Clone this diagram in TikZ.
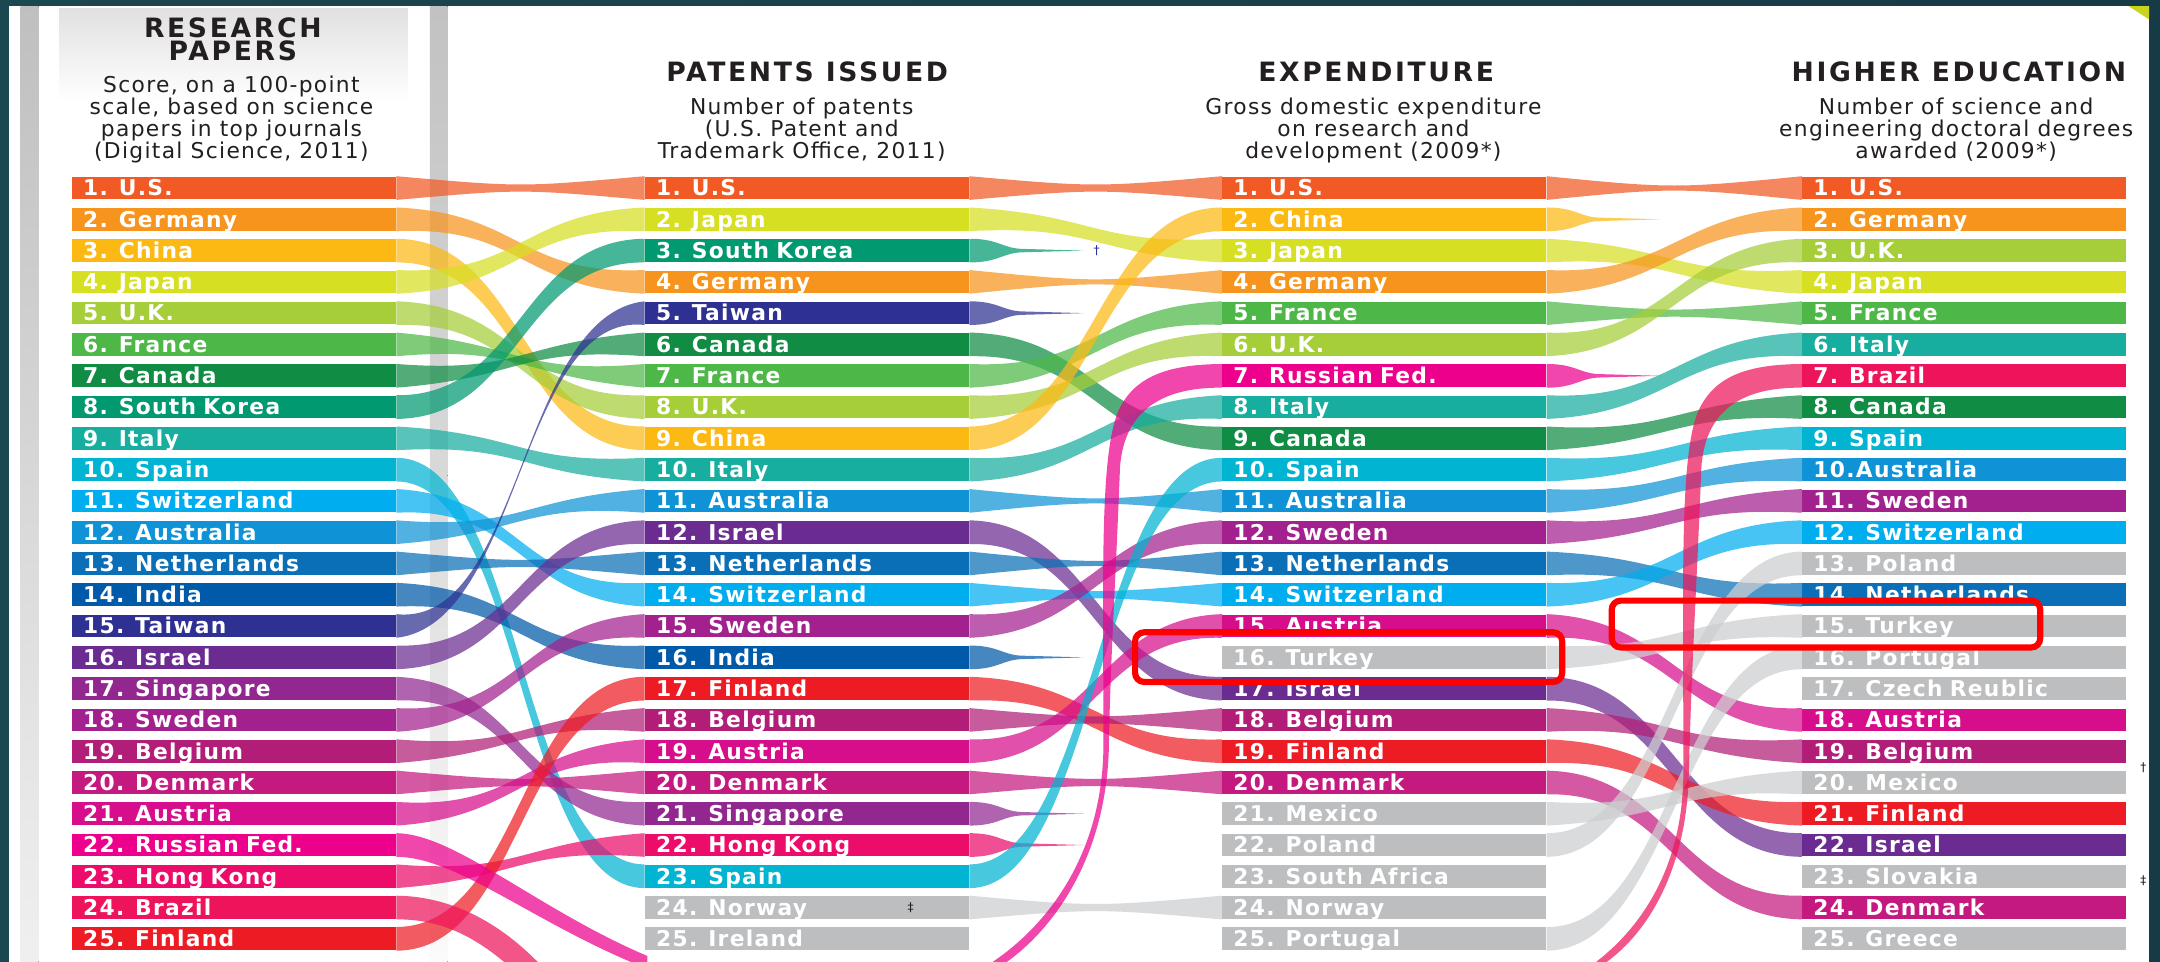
\documentclass[tikz,border=0pt]{standalone}
\usepackage{fontspec}
\setmainfont{DejaVu Sans}
\newfontfamily\barfont{DejaVu Sans}[LetterSpace=6]
\newfontfamily\headfont{DejaVu Sans}[LetterSpace=10]
\newfontfamily\subfont{DejaVu Sans}[LetterSpace=6]
\usepackage{tikz}
\usetikzlibrary{calc}

\definecolor{ink}{HTML}{231F20}
\definecolor{frameleft}{HTML}{1B4750}
\definecolor{framemid}{HTML}{2B5F60}
\definecolor{frameright}{HTML}{173A47}
\definecolor{cornermark}{HTML}{C8D41E}
\definecolor{us}{HTML}{F15A24}
\definecolor{germany}{HTML}{F7941D}
\definecolor{china}{HTML}{FDB913}
\definecolor{japan}{HTML}{D7DF23}
\definecolor{uk}{HTML}{A6CE39}
\definecolor{france}{HTML}{4DB848}
\definecolor{canada}{HTML}{108C45}
\definecolor{skorea}{HTML}{009970}
\definecolor{italy}{HTML}{17AD9F}
\definecolor{spain}{HTML}{00B4D2}
\definecolor{swiss}{HTML}{00AEEF}
\definecolor{australia}{HTML}{0F93D6}
\definecolor{netherl}{HTML}{0B6FB7}
\definecolor{india}{HTML}{0059A9}
\definecolor{taiwan}{HTML}{2E3192}
\definecolor{israel}{HTML}{6A2C91}
\definecolor{singapore}{HTML}{92278F}
\definecolor{sweden}{HTML}{A3218E}
\definecolor{belgium}{HTML}{B21E77}
\definecolor{denmark}{HTML}{C4197F}
\definecolor{austria}{HTML}{D60E8C}
\definecolor{russia}{HTML}{EC008C}
\definecolor{hongkong}{HTML}{EC0C6A}
\definecolor{brazil}{HTML}{EE145B}
\definecolor{finland}{HTML}{ED1C24}
\definecolor{nodata}{HTML}{BCBEC0}

\tikzset{bar node/.style={anchor=west, inner xsep=1.6mm, inner ysep=0pt,
    text width=43.8mm, align=left, minimum height=3.3mm,
    text height=6.5pt, text depth=0pt, text=white,
    font=\barfont\bfseries\fontsize{9}{9}\selectfont}}
\tikzset{ribbon edge/.style={fill opacity=.72}}
\tikzset{heading/.style={anchor=base, align=center, text=ink,
    font=\headfont\bfseries\fontsize{11}{8.9}\selectfont}}
\tikzset{subheading/.style={anchor=base, align=center, text=ink,
    font=\subfont\fontsize{9}{9.1}\selectfont}}
\tikzset{note/.style={text=ink, inner sep=0pt, font=\fontsize{5}{5}\selectfont}}
\tikzset{highlight/.style={draw=red, line width=0.9mm, rounded corners=1.3mm}}

% band from the end of one bar to the start of the next one
\newcommand{\ribbon}[4][6]{%
  \fill [ribbon edge, fill=#4]
    (#2.north east) .. controls +(91,#1) and +(-91,#1) .. (#3.north west)
    -- (#3.south west) .. controls +(-91,-#1) and +(91,-#1) .. (#2.south east) -- cycle;}
% band that runs out to a point
\newcommand{\taper}[2]{%
  \fill [ribbon edge, fill=#2]
    (#1.north east) .. controls +(22,0) and +(-16,0) .. ($(#1.east)+(40,-1.2)$)
    -- ($(#1.east)+(83,0)$) -- ($(#1.east)+(40,1.2)$)
    .. controls +(-16,0) and +(22,0) .. (#1.south east) -- cycle;}

\begin{document}
\begin{tikzpicture}[x=0.02cm, y=-0.02cm]
  \useasboundingbox (0,0) rectangle (1568,698);
  \fill [left color=frameleft, middle color=framemid, right color=frameright] (0,0) rectangle (1568,698);
  \fill [white] (6.6,4.4) rectangle (1560,698);

  \begin{scope}
    \clip (6.6,4.4) rectangle (1560,698);

    % left panel
    \fill [top color=gray!24, bottom color=white] (43,6) rectangle (296,73);
    \fill [top color=gray!50, bottom color=gray!12] (15,4.4) rectangle (28,698);
    \fill [top color=gray!48, bottom color=gray!30] (312,4.4) rectangle (325,345);
    \fill [top color=gray!30, bottom color=gray!3] (312,345) rectangle (325,698);
    \fill [cornermark] (1545,4.4) -- (1560,4.4) -- (1560,14) -- cycle;

    \node [heading]    (hresearch)  at ( 169,27)    {RESEARCH};
    \node [heading]    (hpapers)    at ( 169,44)    {PAPERS};
    \node [subheading] (spapers)    at ( 168,115.4) {Score, on a 100-point\\scale, based on science\\papers in top journals\\(Digital Science, 2011)};
    \node [heading]    (hpatents)   at ( 586,59.3)  {PATENTS ISSUED};
    \node [subheading] (spatents)   at ( 582,115)   {Number of patents\\(U.S. Patent and\\Trademark Office, 2011)};
    \node [heading]    (hexpend)    at ( 999,59.3)  {EXPENDITURE};
    \node [subheading] (sexpend)    at ( 997,115)   {Gross domestic expenditure\\on research and\\development (2009*)};
    \node [heading]    (heducation) at (1422,59.3)  {HIGHER EDUCATION};
    \node [subheading] (seducation) at (1420,115)   {Number of science and\\engineering doctoral degrees\\awarded (2009*)};

    % research papers
    \node [bar node, fill=us]        (a1)  at (52,136.5) {1. U.S.};
    \node [bar node, fill=germany]   (a2)  at (52,159.2) {2. Germany};
    \node [bar node, fill=china]     (a3)  at (52,181.9) {3. China};
    \node [bar node, fill=japan]     (a4)  at (52,204.6) {4. Japan};
    \node [bar node, fill=uk]        (a5)  at (52,227.3) {5. U.K.};
    \node [bar node, fill=france]    (a6)  at (52,250.0) {6. France};
    \node [bar node, fill=canada]    (a7)  at (52,272.8) {7. Canada};
    \node [bar node, fill=skorea]    (a8)  at (52,295.5) {8. South Korea};
    \node [bar node, fill=italy]     (a9)  at (52,318.2) {9. Italy};
    \node [bar node, fill=spain]     (a10) at (52,340.9) {10. Spain};
    \node [bar node, fill=swiss]     (a11) at (52,363.6) {11. Switzerland};
    \node [bar node, fill=australia] (a12) at (52,386.3) {12. Australia};
    \node [bar node, fill=netherl]   (a13) at (52,409.0) {13. Netherlands};
    \node [bar node, fill=india]     (a14) at (52,431.7) {14. India};
    \node [bar node, fill=taiwan]    (a15) at (52,454.4) {15. Taiwan};
    \node [bar node, fill=israel]    (a16) at (52,477.2) {16. Israel};
    \node [bar node, fill=singapore] (a17) at (52,499.9) {17. Singapore};
    \node [bar node, fill=sweden]    (a18) at (52,522.6) {18. Sweden};
    \node [bar node, fill=belgium]   (a19) at (52,545.3) {19. Belgium};
    \node [bar node, fill=denmark]   (a20) at (52,568.0) {20. Denmark};
    \node [bar node, fill=austria]   (a21) at (52,590.7) {21. Austria};
    \node [bar node, fill=russia]    (a22) at (52,613.4) {22. Russian Fed.};
    \node [bar node, fill=hongkong]  (a23) at (52,636.1) {23. Hong Kong};
    \node [bar node, fill=brazil]    (a24) at (52,658.8) {24. Brazil};
    \node [bar node, fill=finland]   (a25) at (52,681.5) {25. Finland};

    % patents issued
    \node [bar node, fill=us]        (b1)  at (468,136.5) {1. U.S.};
    \node [bar node, fill=japan]     (b2)  at (468,159.2) {2. Japan};
    \node [bar node, fill=skorea]    (b3)  at (468,181.9) {3. South Korea};
    \node [bar node, fill=germany]   (b4)  at (468,204.6) {4. Germany};
    \node [bar node, fill=taiwan]    (b5)  at (468,227.3) {5. Taiwan};
    \node [bar node, fill=canada]    (b6)  at (468,250.0) {6. Canada};
    \node [bar node, fill=france]    (b7)  at (468,272.8) {7. France};
    \node [bar node, fill=uk]        (b8)  at (468,295.5) {8. U.K.};
    \node [bar node, fill=china]     (b9)  at (468,318.2) {9. China};
    \node [bar node, fill=italy]     (b10) at (468,340.9) {10. Italy};
    \node [bar node, fill=australia] (b11) at (468,363.6) {11. Australia};
    \node [bar node, fill=israel]    (b12) at (468,386.3) {12. Israel};
    \node [bar node, fill=netherl]   (b13) at (468,409.0) {13. Netherlands};
    \node [bar node, fill=swiss]     (b14) at (468,431.7) {14. Switzerland};
    \node [bar node, fill=sweden]    (b15) at (468,454.4) {15. Sweden};
    \node [bar node, fill=india]     (b16) at (468,477.2) {16. India};
    \node [bar node, fill=finland]   (b17) at (468,499.9) {17. Finland};
    \node [bar node, fill=belgium]   (b18) at (468,522.6) {18. Belgium};
    \node [bar node, fill=austria]   (b19) at (468,545.3) {19. Austria};
    \node [bar node, fill=denmark]   (b20) at (468,568.0) {20. Denmark};
    \node [bar node, fill=singapore] (b21) at (468,590.7) {21. Singapore};
    \node [bar node, fill=hongkong]  (b22) at (468,613.4) {22. Hong Kong};
    \node [bar node, fill=spain]     (b23) at (468,636.1) {23. Spain};
    \node [bar node, fill=nodata]    (b24) at (468,658.8) {24. Norway};
    \node [bar node, fill=nodata]    (b25) at (468,681.5) {25. Ireland};

    % expenditure
    \node [bar node, fill=us]        (c1)  at (887,136.5) {1. U.S.};
    \node [bar node, fill=china]     (c2)  at (887,159.2) {2. China};
    \node [bar node, fill=japan]     (c3)  at (887,181.9) {3. Japan};
    \node [bar node, fill=germany]   (c4)  at (887,204.6) {4. Germany};
    \node [bar node, fill=france]    (c5)  at (887,227.3) {5. France};
    \node [bar node, fill=uk]        (c6)  at (887,250.0) {6. U.K.};
    \node [bar node, fill=russia]    (c7)  at (887,272.8) {7. Russian Fed.};
    \node [bar node, fill=italy]     (c8)  at (887,295.5) {8. Italy};
    \node [bar node, fill=canada]    (c9)  at (887,318.2) {9. Canada};
    \node [bar node, fill=spain]     (c10) at (887,340.9) {10. Spain};
    \node [bar node, fill=australia] (c11) at (887,363.6) {11. Australia};
    \node [bar node, fill=sweden]    (c12) at (887,386.3) {12. Sweden};
    \node [bar node, fill=netherl]   (c13) at (887,409.0) {13. Netherlands};
    \node [bar node, fill=swiss]     (c14) at (887,431.7) {14. Switzerland};
    \node [bar node, fill=austria]   (c15) at (887,454.4) {15. Austria};
    \node [bar node, fill=nodata]    (c16) at (887,477.2) {16. Turkey};
    \node [bar node, fill=israel]    (c17) at (887,499.9) {17. Israel};
    \node [bar node, fill=belgium]   (c18) at (887,522.6) {18. Belgium};
    \node [bar node, fill=finland]   (c19) at (887,545.3) {19. Finland};
    \node [bar node, fill=denmark]   (c20) at (887,568.0) {20. Denmark};
    \node [bar node, fill=nodata]    (c21) at (887,590.7) {21. Mexico};
    \node [bar node, fill=nodata]    (c22) at (887,613.4) {22. Poland};
    \node [bar node, fill=nodata]    (c23) at (887,636.1) {23. South Africa};
    \node [bar node, fill=nodata]    (c24) at (887,658.8) {24. Norway};
    \node [bar node, fill=nodata]    (c25) at (887,681.5) {25. Portugal};

    % higher education
    \node [bar node, fill=us]        (d1)  at (1308,136.5) {1. U.S.};
    \node [bar node, fill=germany]   (d2)  at (1308,159.2) {2. Germany};
    \node [bar node, fill=uk]        (d3)  at (1308,181.9) {3. U.K.};
    \node [bar node, fill=japan]     (d4)  at (1308,204.6) {4. Japan};
    \node [bar node, fill=france]    (d5)  at (1308,227.3) {5. France};
    \node [bar node, fill=italy]     (d6)  at (1308,250.0) {6. Italy};
    \node [bar node, fill=brazil]    (d7)  at (1308,272.8) {7. Brazil};
    \node [bar node, fill=canada]    (d8)  at (1308,295.5) {8. Canada};
    \node [bar node, fill=spain]     (d9)  at (1308,318.2) {9. Spain};
    \node [bar node, fill=australia] (d10) at (1308,340.9) {10.Australia};
    \node [bar node, fill=sweden]    (d11) at (1308,363.6) {11. Sweden};
    \node [bar node, fill=swiss]     (d12) at (1308,386.3) {12. Switzerland};
    \node [bar node, fill=nodata]    (d13) at (1308,409.0) {13. Poland};
    \node [bar node, fill=netherl]   (d14) at (1308,431.7) {14. Netherlands};
    \node [bar node, fill=nodata]    (d15) at (1308,454.4) {15. Turkey};
    \node [bar node, fill=nodata]    (d16) at (1308,477.2) {16. Portugal};
    \node [bar node, fill=nodata]    (d17) at (1308,499.9) {17. Czech Reublic};
    \node [bar node, fill=austria]   (d18) at (1308,522.6) {18. Austria};
    \node [bar node, fill=belgium]   (d19) at (1308,545.3) {19. Belgium};
    \node [bar node, fill=nodata]    (d20) at (1308,568.0) {20. Mexico};
    \node [bar node, fill=finland]   (d21) at (1308,590.7) {21. Finland};
    \node [bar node, fill=israel]    (d22) at (1308,613.4) {22. Israel};
    \node [bar node, fill=nodata]    (d23) at (1308,636.1) {23. Slovakia};
    \node [bar node, fill=denmark]   (d24) at (1308,658.8) {24. Denmark};
    \node [bar node, fill=nodata]    (d25) at (1308,681.5) {25. Greece};

    % papers -> patents
    \ribbon[8]{a1}{b1}{us}
    \ribbon[4]{a2}{b4}{germany}
    \ribbon[1]{a3}{b9}{china}
    \ribbon[4]{a4}{b2}{japan}
    \ribbon[3]{a5}{b8}{uk}
    \ribbon[8]{a6}{b7}{france}
    \ribbon[7]{a7}{b6}{canada}
    \ribbon[1]{a8}{b3}{skorea}
    \ribbon[5]{a9}{b10}{italy}
    \ribbon[0]{a10}{b23}{spain}
    \ribbon[5]{a11}{b14}{swiss}
    \ribbon[7]{a12}{b11}{australia}
    \ribbon[8]{a13}{b13}{netherl}
    \ribbon[4]{a14}{b16}{india}
    \ribbon[10]{a15}{b5}{taiwan}
    \ribbon[3]{a16}{b12}{israel}
    \ribbon[4]{a17}{b21}{singapore}
    \ribbon[5]{a18}{b15}{sweden}
    \ribbon[7]{a19}{b18}{belgium}
    \ribbon[8]{a20}{b20}{denmark}
    \ribbon[6]{a21}{b19}{austria}
    \ribbon[7]{a23}{b22}{hongkong}
    \ribbon[0]{a25}{b17}{finland}

    % patents -> expenditure
    \ribbon[8]{b1}{c1}{us}
    \ribbon[5]{b2}{c3}{japan}
    \taper{b3}{skorea}
    \ribbon[9]{b4}{c4}{germany}
    \taper{b5}{taiwan}
    \ribbon[2]{b6}{c9}{canada}
    \ribbon[4]{b7}{c5}{france}
    \ribbon[4]{b8}{c6}{uk}
    \ribbon[0]{b9}{c2}{china}
    \ribbon[4]{b10}{c8}{italy}
    \ribbon[9]{b11}{c11}{australia}
    \ribbon[2]{b12}{c17}{israel}
    \ribbon[9]{b13}{c13}{netherl}
    \ribbon[8]{b14}{c14}{swiss}
    \ribbon[4]{b15}{c12}{sweden}
    \taper{b16}{india}
    \ribbon[3]{b17}{c19}{finland}
    \ribbon[8]{b18}{c18}{belgium}
    \ribbon[3]{b19}{c15}{austria}
    \ribbon[8]{b20}{c20}{denmark}
    \taper{b21}{singapore}
    \taper{b22}{hongkong}
    \ribbon[0]{b23}{c10}{spain}
    \ribbon[8]{b24}{c24}{nodata!75}

    % expenditure -> higher education
    \ribbon[9]{c1}{d1}{us}
    \taper{c2}{china}
    \ribbon[5]{c3}{d4}{japan}
    \ribbon[4]{c4}{d2}{germany}
    \ribbon[8]{c5}{d5}{france}
    \ribbon[4]{c6}{d3}{uk}
    \taper{c7}{russia}
    \ribbon[4]{c8}{d6}{italy}
    \ribbon[5]{c9}{d8}{canada}
    \ribbon[4]{c10}{d9}{spain}
    \ribbon[4]{c11}{d10}{australia}
    \ribbon[5]{c12}{d11}{sweden}
    \ribbon[4]{c13}{d14}{netherl}
    \ribbon[3]{c14}{d12}{swiss}
    \ribbon[4]{c15}{d18}{austria}
    \ribbon[4]{c16}{d15}{nodata!75}
    \ribbon[1]{c17}{d22}{israel}
    \ribbon[5]{c18}{d19}{belgium}
    \ribbon[3]{c19}{d21}{finland}
    \ribbon[2]{c20}{d24}{denmark}
    \ribbon[5]{c21}{d20}{nodata!75}
    \ribbon[1]{c22}{d13}{nodata!75}
    \ribbon[1]{c25}{d16}{nodata!75}

    % russian fed. and brazil dip under the chart
    \fill [ribbon edge, fill=russia]
      (a22.north east) .. controls (330,605.2) and (390,660) .. (470,694)
      -- (470,760) -- (716,760) -- (721,698)
      .. controls (765,668) and (801,615) .. (801,540)
      .. controls (801,420) and (798,330) .. (812,298)
      .. controls (824,272) and (850,264.6) .. (c7.north west)
      -- (c7.south west) .. controls (852,281.1) and (816,292) .. (813,340)
      .. controls (810,420) and (806,480) .. (805,540)
      .. controls (804,615) and (770,672) .. (727,701)
      -- (727,770) -- (462,770) -- (462,700)
      .. controls (385,668) and (330,621.7) .. (a22.south east) -- cycle;
    \fill [ribbon edge, fill=brazil]
      (a24.north east) .. controls (330,650.6) and (365,672) .. (392,700)
      -- (392,770) -- (1150,770) -- (1159,698)
      .. controls (1195,670) and (1222,625) .. (1222,560)
      .. controls (1222,420) and (1219,330) .. (1233,298)
      .. controls (1245,272) and (1270,264.6) .. (d7.north west)
      -- (d7.south west) .. controls (1272,281.1) and (1238,292) .. (1235,340)
      .. controls (1232,420) and (1228,480) .. (1226,560)
      .. controls (1225,625) and (1200,675) .. (1164,700)
      -- (1164,780) -- (368,780) -- (368,700)
      .. controls (340,676) and (315,667.1) .. (a24.south east) -- cycle;

    \node [note, text=taiwan] (mark1) at ( 796,181.9) {\dag};
    \node [note]              (mark2) at ( 661,658.8) {\ddag};
    \node [note]              (mark3) at (1556,557)   {\dag};
    \node [note]              (mark4) at (1556,639)   {\ddag};

    \draw [highlight] ( 824,459) rectangle (1134,495);
    \draw [highlight] (1170,436) rectangle (1481,470);
  \end{scope}
\end{tikzpicture}
\end{document}
